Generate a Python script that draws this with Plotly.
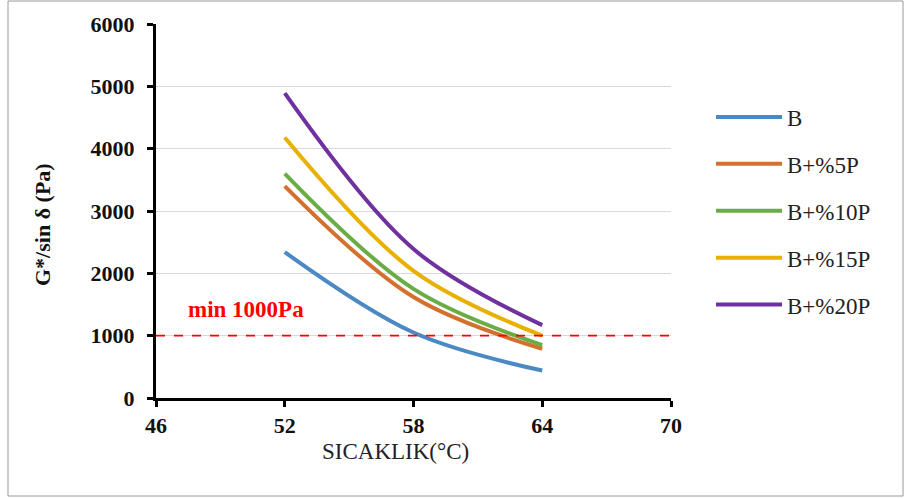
import plotly.graph_objects as go

temps = [52, 58, 64]
series_names = ["B", "B+%5P", "B+%10P", "B+%15P", "B+%20P"]
val_B = [2340, 1050, 440]
val_B5 = [3400, 1620, 790]
val_B10 = [3600, 1750, 850]
val_B15 = [4180, 2040, 1000]
val_B20 = [4890, 2390, 1170]
colors = ["#4A89C4", "#D4702E", "#6AAC45", "#E8B000", "#7030A0"]
x_ticks = [46, 52, 58, 64, 70]
y_ticks = [0, 1000, 2000, 3000, 4000, 5000, 6000]
threshold = 1000
threshold_label = "min 1000Pa"
x_title = "SICAKLIK(°C)"
y_title = "G*/sin δ (Pa)"

W, H = 905, 499
L, R, T, B = 156, 234, 24, 101
pw, ph = W - L - R, H - T - B

serif = "Times New Roman, Liberation Serif, serif"

fig = go.Figure()
for i, (name, vals) in enumerate(zip(series_names, [val_B, val_B5, val_B10, val_B15, val_B20])):
    fig.add_trace(go.Scatter(
        x=temps, y=vals, name=name, mode="lines",
        line=dict(color=colors[i], width=4, shape="spline", smoothing=1.0),
        legendgroup=name,
    ))

fig.add_shape(type="line", xref="paper", yref="y", x0=0, x1=1, y0=threshold, y1=threshold,
              line=dict(color="#FF0000", width=1.6, dash="dash"))
fig.add_annotation(x=(246 - L) / pw, y=(H - B - 309) / ph, xref="paper", yref="paper",
                   xanchor="center", yanchor="middle",
                   text=threshold_label, showarrow=False,
                   font=dict(family=serif, size=23, color="#FF0000", weight="bold"))

# axis titles as annotations for exact placement
fig.add_annotation(x=(395 - L) / pw, y=(H - B - 452) / ph, xref="paper", yref="paper",
                   xanchor="center", yanchor="middle",
                   text=x_title, showarrow=False,
                   font=dict(family=serif, size=23, color="#222222"))
fig.add_annotation(x=(43 - L) / pw, y=(H - B - 225) / ph, xref="paper", yref="paper",
                   xanchor="center", yanchor="middle",
                   text=y_title, showarrow=False, textangle=-90,
                   font=dict(family=serif, size=22, color="#111111", weight="bold"))

# outer frame
fig.add_shape(type="rect", xref="paper", yref="paper",
              x0=(8 - L) / pw, x1=(903 - L) / pw, y0=(H - B - 496) / ph, y1=(H - B - 1) / ph,
              line=dict(color="#9A9A9A", width=1), fillcolor="rgba(0,0,0,0)", layer="below")

fig.update_layout(
    width=W, height=H,
    margin=dict(l=L, r=R, t=T, b=B),
    paper_bgcolor="white", plot_bgcolor="white",
    showlegend=True,
    legend=dict(x=(711 - L) / pw, y=(H - B - 211) / ph, xanchor="left", yanchor="middle",
                font=dict(family=serif, size=23, color="#222222"),
                itemwidth=66, tracegroupgap=14, bgcolor="rgba(0,0,0,0)"),
    xaxis=dict(range=[46, 70], tickvals=x_ticks, showgrid=False, zeroline=False,
               showline=True, linecolor="black", linewidth=3,
               ticks="outside", ticklen=6, tickwidth=3, tickcolor="black",
               tickfont=dict(family=serif, size=22, color="#111111", weight="bold")),
    yaxis=dict(range=[0, 6000], tickvals=y_ticks, showgrid=True, gridcolor="#D9D9D9", gridwidth=1,
               zeroline=False, showline=True, linecolor="black", linewidth=3,
               ticks="outside", ticklen=6, tickwidth=3, tickcolor="black", ticklabelstandoff=8,
               tickfont=dict(family=serif, size=22, color="#111111", weight="bold")),
)

fig.write_html("out.html")
